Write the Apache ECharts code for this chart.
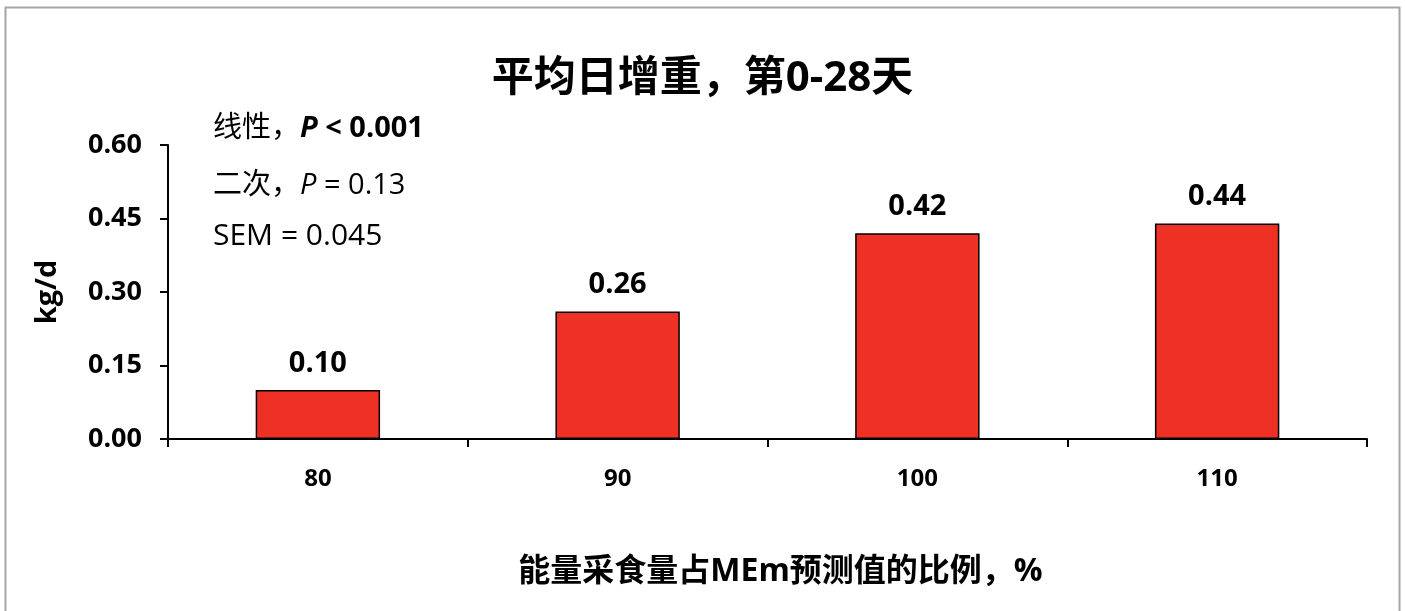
<!DOCTYPE html>
<html>
<head>
<meta charset="utf-8">
<script src="https://cdn.jsdelivr.net/npm/echarts@6/dist/echarts.min.js"></script>
<style>
  html, body { margin: 0; padding: 0; background: #fff; }
  #chart { width: 1405px; height: 611px; }
</style>
</head>
<body>
<div id="chart"></div>
<script>
  const categories = ['80', '90', '100', '110'];
  const gainValues = [0.10, 0.26, 0.42, 0.44];
  const yTicks = [0, 0.15, 0.30, 0.45, 0.60];

  const fontFamily = '"Open Sans", "Noto Sans CJK SC", sans-serif';
  const chart = echarts.init(document.getElementById('chart'));

  const option = {
    backgroundColor: '#ffffff',
    animation: false,
    title: {
      text: '平均日增重，第0-28天',
      left: 'center',
      top: 53,
      textStyle: { fontSize: 42, fontWeight: 'bold', color: '#000', fontFamily: fontFamily }
    },
    grid: { left: 168, right: 38, top: 145, bottom: 172 },
    xAxis: {
      type: 'category',
      data: categories,
      name: '能量采食量占MEm预测值的比例，%',
      nameLocation: 'middle',
      nameGap: 117,
      nameTextStyle: { fontSize: 32, fontWeight: 'bold', color: '#000', fontFamily: fontFamily, padding: [0, 0, 0, 26] },
      axisLine: { lineStyle: { color: '#000', width: 2 } },
      axisTick: { show: true, length: 8, alignWithLabel: false, lineStyle: { color: '#000', width: 2 } },
      axisLabel: { margin: 28, fontSize: 24, fontWeight: 'bold', color: '#000', fontFamily: fontFamily }
    },
    yAxis: {
      type: 'value',
      min: yTicks[0],
      max: yTicks[yTicks.length - 1],
      interval: 0.15,
      name: 'kg/d',
      nameLocation: 'middle',
      nameGap: 106,
      nameTextStyle: { fontSize: 29, fontWeight: 'bold', color: '#000', fontFamily: fontFamily },
      axisLine: { show: true, lineStyle: { color: '#000', width: 2 } },
      axisTick: { show: true, length: 8, lineStyle: { color: '#000', width: 2 } },
      splitLine: { show: false },
      axisLabel: {
        margin: 26,
        fontSize: 27,
        fontWeight: 'bold',
        color: '#000',
        fontFamily: fontFamily,
        formatter: v => v.toFixed(2)
      }
    },
    series: [{
      type: 'bar',
      data: gainValues,
      barWidth: '41.5%',
      itemStyle: { color: '#ee3124', borderColor: '#000', borderWidth: 1.5 },
      label: {
        show: true,
        position: 'top',
        distance: 12,
        fontSize: 29,
        fontWeight: 'bold',
        color: '#000',
        fontFamily: fontFamily,
        formatter: p => p.value.toFixed(2)
      }
    }],
    graphic: [
      {
        type: 'rect',
        shape: { x: 5.5, y: 7.5, width: 1394, height: 640 },
        style: { fill: 'none', stroke: '#a6a6a6', lineWidth: 2 },
        silent: true
      },
      {
        type: 'text',
        left: 213,
        top: 114,
        style: {
          text: '{n|线性，}{pi|P}{b| < 0.001}',
          rich: {
            n: { fontSize: 29, color: '#000', fontFamily: fontFamily },
            pi: { fontSize: 29, fontStyle: 'italic', fontWeight: 'bold', color: '#000', fontFamily: fontFamily },
            b: { fontSize: 29, fontWeight: 'bold', color: '#000', fontFamily: fontFamily }
          }
        }
      },
      {
        type: 'text',
        left: 213,
        top: 171,
        style: {
          text: '{n|二次，}{pi|P}{n| = 0.13}',
          rich: {
            n: { fontSize: 29, color: '#000', fontFamily: fontFamily },
            pi: { fontSize: 29, fontStyle: 'italic', color: '#000', fontFamily: fontFamily }
          }
        }
      },
      {
        type: 'text',
        left: 213,
        top: 221,
        style: {
          text: 'SEM = 0.045',
          fontSize: 30,
          fill: '#000',
          fontFamily: fontFamily
        }
      }
    ]
  };

  chart.setOption(option);
</script>
</body>
</html>
